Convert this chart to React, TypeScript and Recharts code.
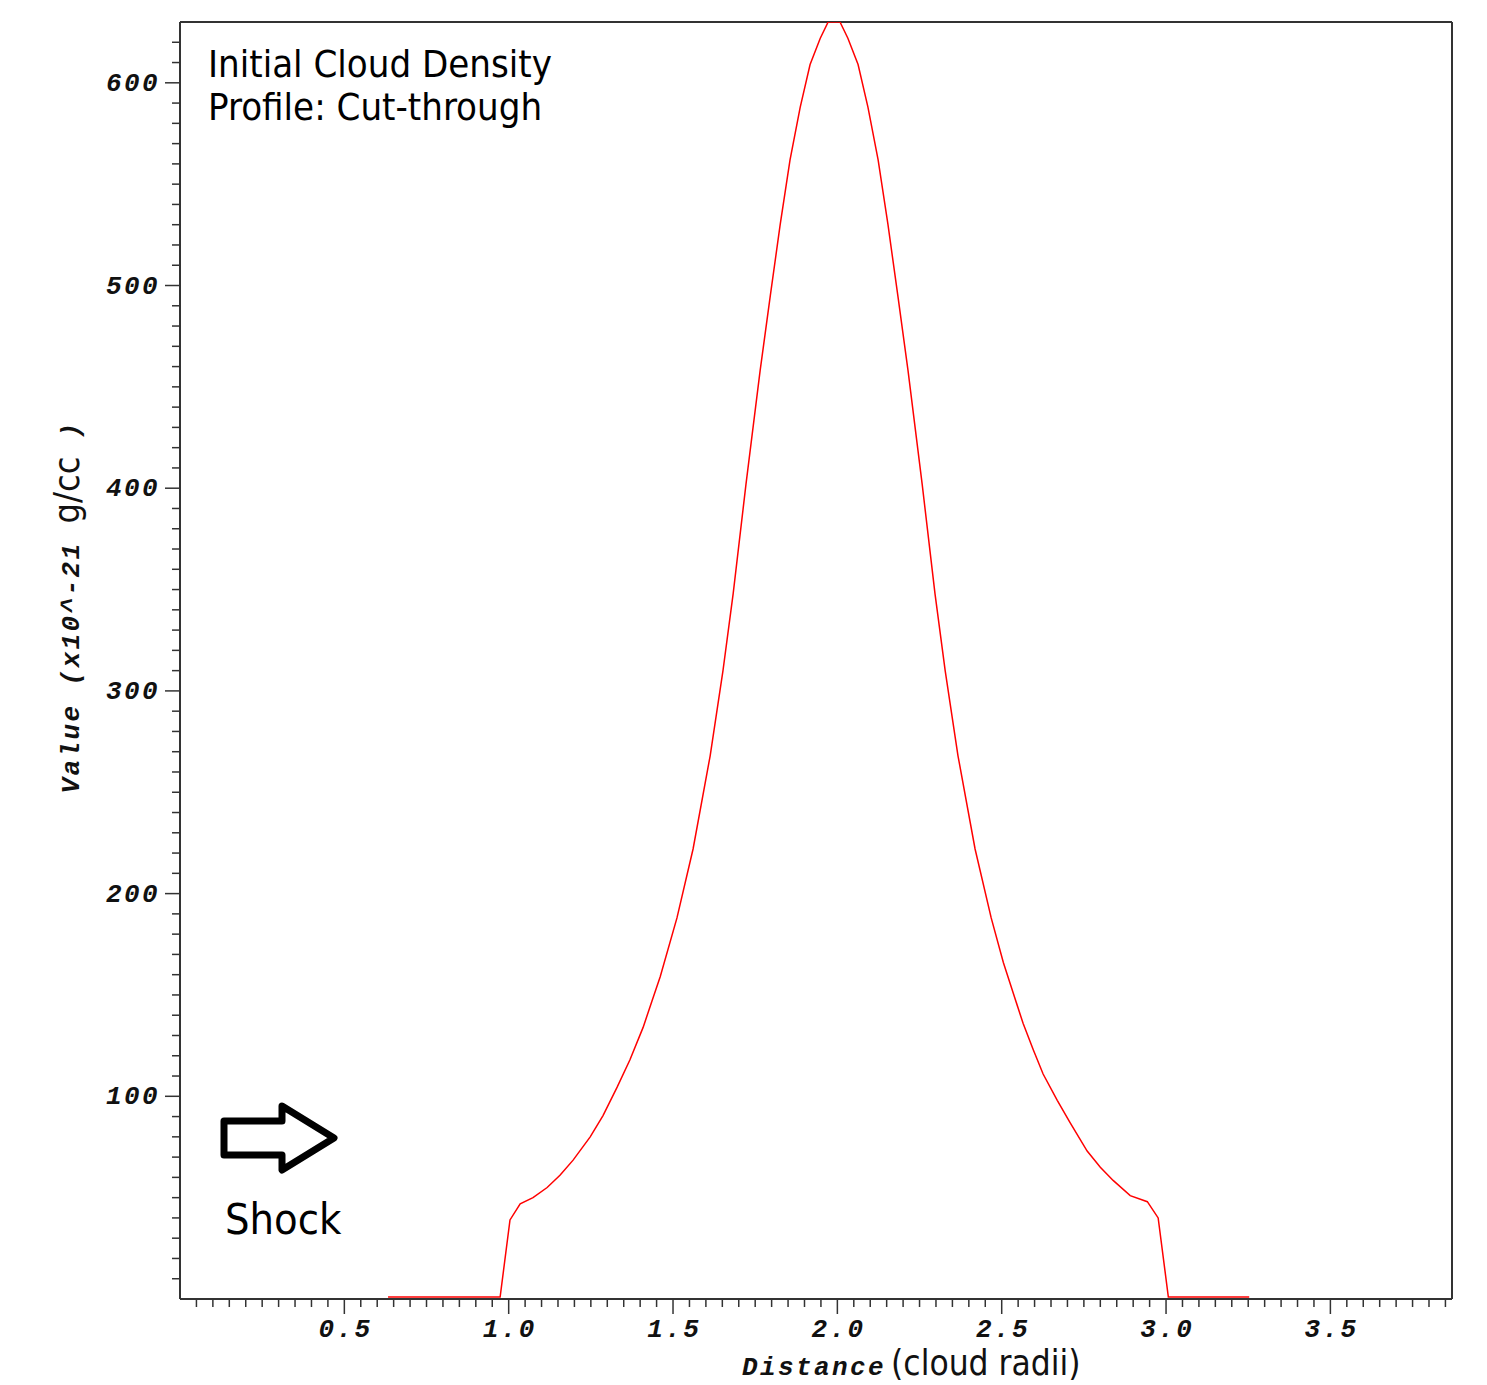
import React from "react";
import { LineChart, Line, XAxis, YAxis, ReferenceLine } from "recharts";

// distance in cloud radii, density in 1e-21 g/cc
const distance = [
  0.633, 0.974, 1.004, 1.035, 1.074, 1.117, 1.156, 1.196, 1.248, 1.287, 1.33,
  1.369, 1.409, 1.436, 1.461, 1.512, 1.561, 1.613, 1.652, 1.683, 1.722, 1.765,
  1.796, 1.826, 1.856, 1.887, 1.917, 1.948, 1.972, 2.008, 2.032, 2.063, 2.093,
  2.124, 2.154, 2.184, 2.215, 2.258, 2.297, 2.328, 2.367, 2.419, 2.468, 2.505,
  2.535, 2.565, 2.596, 2.626, 2.669, 2.708, 2.76, 2.8, 2.839, 2.891, 2.943,
  2.976, 3.007, 3.253,
];
const density = [
  1, 1, 39, 47, 50, 55, 61, 68.5, 80, 90.5, 104.5, 118, 134, 147, 159, 188, 222,
  268, 310, 348, 402, 458, 495, 530, 562, 588, 609, 622, 630, 630, 622, 609,
  588, 562, 530, 495, 458, 402, 348, 310, 268, 222, 188, 166, 151, 136, 123,
  111, 98, 87, 73, 65, 58.5, 51, 48, 40, 1, 1,
];

const xMajorTicks = [0.5, 1.0, 1.5, 2.0, 2.5, 3.0, 3.5];
const yMajorTicks = [100, 200, 300, 400, 500, 600];
const xAllTicks = Array.from({ length: 77 }, (_, i) => +((i + 1) * 0.05).toFixed(2));
const yAllTicks = Array.from({ length: 62 }, (_, i) => (i + 1) * 10);

const X_MAX = 3.87;
const Y_MAX = 630;

const data = distance.map((d, i) => ({ x: d, y: density[i] }));

const AXIS = "#333";
const MONO = "'Liberation Mono', 'DejaVu Sans Mono', monospace";
const SANS = "'DejaVu Sans Condensed', 'DejaVu Sans', sans-serif";
const monoStyle: React.CSSProperties = {
  fontFamily: MONO,
  fontWeight: "bold",
  fontStyle: "italic",
  fontSize: 26,
  letterSpacing: 2.4,
};

const isMajor = (list: number[], v: number) => list.some((m) => Math.abs(m - v) < 1e-6);

function XTick(props: any) {
  const { x, y, payload } = props;
  const v = payload.value;
  const major = isMajor(xMajorTicks, v);
  return (
    <g>
      <line x1={x} x2={x} y1={y} y2={y + (major ? 15 : 8)} stroke={AXIS} strokeWidth={1.5} />
      {major && (
        <text x={x + 1.2} y={y + 38} textAnchor="middle" fill="#111" style={monoStyle}>
          {v.toFixed(1)}
        </text>
      )}
    </g>
  );
}

function YTick(props: any) {
  const { x, y, payload } = props;
  const v = payload.value;
  const major = isMajor(yMajorTicks, v);
  return (
    <g>
      <line x1={x} x2={x - (major ? 15 : 8)} y1={y} y2={y} stroke={AXIS} strokeWidth={1.5} />
      {major && (
        <text x={x - 20} y={y + 8} textAnchor="end" fill="#111" style={monoStyle}>
          {v}
        </text>
      )}
    </g>
  );
}

export default function App() {
  return (
    <div style={{ position: "absolute", left: 0, top: 0, width: 1487, height: 1385, background: "#fff" }}>
      <LineChart width={1487} height={1385} data={data} margin={{ top: 22, right: 35, bottom: 0, left: 0 }}>
        <XAxis
          dataKey="x"
          type="number"
          domain={[0, X_MAX]}
          ticks={xAllTicks}
          interval={0}
          height={86}
          tickLine={false}
          tickSize={0}
          tickMargin={0}
          tick={<XTick />}
          axisLine={{ stroke: AXIS, strokeWidth: 2 }}
          allowDataOverflow
        />
        <YAxis
          type="number"
          domain={[0, Y_MAX]}
          ticks={yAllTicks}
          interval={0}
          width={180}
          tickLine={false}
          tickSize={0}
          tickMargin={0}
          tick={<YTick />}
          axisLine={{ stroke: AXIS, strokeWidth: 2 }}
          allowDataOverflow
        />
        <ReferenceLine y={Y_MAX} stroke={AXIS} strokeWidth={2} />
        <ReferenceLine x={X_MAX} stroke={AXIS} strokeWidth={2} />
        <Line
          type="linear"
          dataKey="y"
          stroke="#ff0000"
          strokeWidth={1.5}
          dot={false}
          isAnimationActive={false}
        />
      </LineChart>
      <svg
        width={1487}
        height={1385}
        style={{ position: "absolute", left: 0, top: 0, pointerEvents: "none" }}
      >
        <text x={208} y={77} fontFamily={SANS} fontSize={38} fill="#000">
          Initial Cloud Density
        </text>
        <text x={208} y={120} fontFamily={SANS} fontSize={38} fill="#000">
          Profile: Cut-through
        </text>
        <path
          d="M224,1121 L282,1121 L282,1106 L334,1138 L282,1170 L282,1155 L224,1155 Z"
          fill="none"
          stroke="#000"
          strokeWidth={7}
          strokeLinejoin="round"
        />
        <text x={225} y={1234} fontFamily={SANS} fontSize={43} fill="#000">
          Shock
        </text>
        <text x={79} y={607} transform="rotate(-90, 79, 607)" textAnchor="middle" fill="#111">
          <tspan style={monoStyle}>Value (x10^-21 </tspan>
          <tspan fontFamily={SANS} fontSize={36}>g/cc</tspan>
          <tspan style={monoStyle}> )</tspan>
        </text>
        <text x={742} y={1375} fill="#111">
          <tspan style={monoStyle}>Distance</tspan>
          <tspan dx={5} fontFamily={SANS} fontSize={35}>(cloud radii)</tspan>
        </text>
      </svg>
    </div>
  );
}
